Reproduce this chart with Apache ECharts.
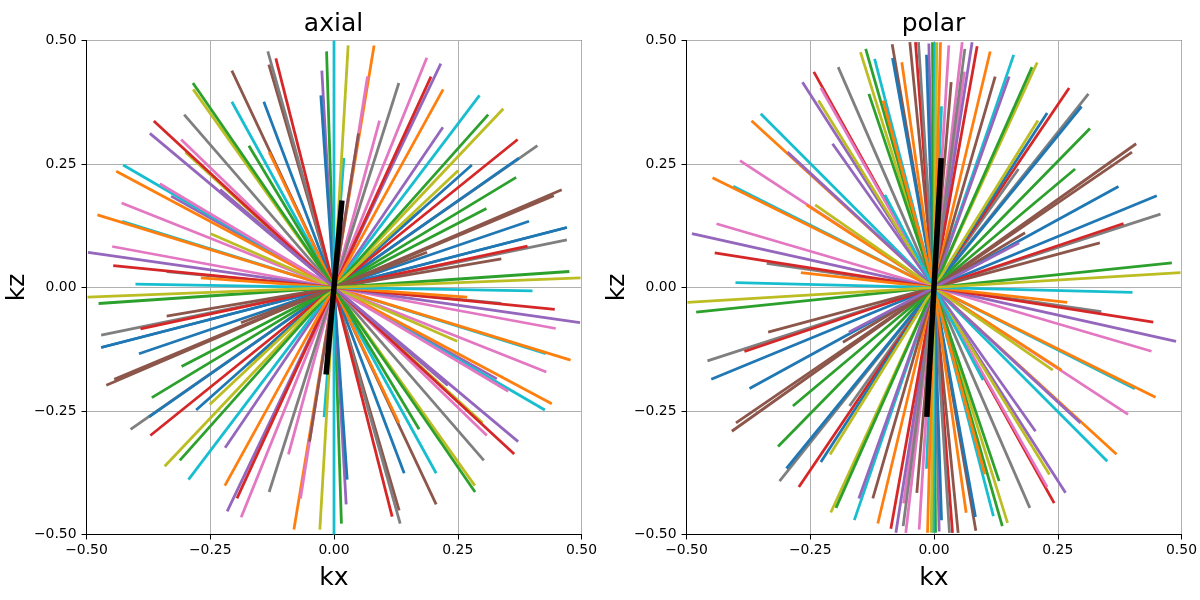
<!DOCTYPE html>
<html><head><meta charset="utf-8">
<script src="https://cdn.jsdelivr.net/npm/echarts@6/dist/echarts.min.js"></script>
<style>html,body{margin:0;padding:0;background:#fff}#c{width:1200px;height:600px}</style>
</head><body><div id="c"></div>
<script>
const palette = {b:'#1f77b4',o:'#ff7f0e',g:'#2ca02c',r:'#d62728',p:'#9467bd',n:'#8c564b',k:'#e377c2',y:'#7f7f7f',l:'#bcbd22',c:'#17becf'};
const titles = ['axial','polar'];
const tickValues = [-0.5,-0.25,0,0.25,0.5];

const axialColors = ['y','y','c','y','c','g','p','b','n','n','y','b','c','l','g','y','r','p','k','l','l','p','p','c','o','o','k','o','k','l','k','p','r','o','c','c','g','p','b','r','l','o','k','n','c','k','y','k','p','r','o','p','l','g','b','r','l','b','g','g','n','n','b','b','y','r','n','n','g','l'];
const axialKx = [-0.338,0.411,-0.428,0.175,0.02,-0.015,-0.0246,-0.0266,-0.1316,-0.2064,-0.1337,-0.1418,-0.2064,-0.2845,-0.285,-0.3027,-0.1175,-0.372,-0.3088,-0.30,0.161,-0.329,-0.23,-0.426,-0.131,-0.44,-0.352,-0.478,-0.429,-0.249,-0.448,-0.497,-0.446,-0.269,-0.401,0,-0.172,0.22,0.2785,-0.364,0.0286,0.081,0.0677,0.0495,0.294,0.092,0.131,0.1875,0.2158,0.196,0.2205,-0.23,0.342,0.3115,0.3735,0.371,0.251,0.394,0.368,0.308,0.46,0.444,0.4704,0.4704,0.4704,0.391,0.338,0.188,0.4755,0.498];
const axialKz = [0.032,0.287,0.134,0.156,0.2625,0.478,0.439,0.389,0.451,0.439,0.478,0.376,0.376,0.401,0.414,0.35,0.464,0.312,0.2996,0.274,0.149,0.185,0.198,0.248,0.274,0.2355,0.21,0.147,0.171,0.109,0.083,0.071,0.0445,0.0196,0.0067,0.5,0.287,0.3245,0.248,0.337,0.49,0.49,0.427,0.312,0.389,0.338,0.414,0.465,0.453,0.427,0.401,0.198,0.362,0.35,0.262,0.2996,0.237,0.134,0.223,0.16,0.198,0.186,0.1215,0.1215,0.0965,0.0837,0.058,0.0715,0.0324,0.0196];
const axialBlack = [0.016,0.176];

const polarColors = ['y','y','c','c','n','n','r','y','p','b','g','c','l','o','b','o','c','l','g','y','r','k','p','l','g','o','p','c','o','p','k','c','o','o','l','k','p','r','o','c','k','k','k','p','r','n','o','c','n','p','l','g','r','y','b','b','l','g','y','g','n','n','b','b','y','r','n','n','p','g','l'];
const polarKx = [-0.338,0.1707,-0.4057,0.0152,-0.0845,-0.0488,-0.0374,-0.0313,-0.0104,-0.0152,-0.003,0.0016,0.0057,0.0131,-0.0838,-0.065,-0.12,-0.1485,-0.138,-0.1936,-0.2428,-0.2286,-0.2657,-0.2333,-0.1316,-0.1027,-0.205,-0.35,-0.3687,-0.296,-0.392,-0.0993,-0.4475,-0.2576,-0.24,-0.4394,-0.489,-0.443,-0.269,-0.401,0.03,0.057,0.0616,0.077,0.0872,0.0347,0.1135,0.161,0.1236,0.1518,0.2085,0.198,0.273,0.312,0.298,0.2286,0.21,0.315,0.0623,0.285,0.4084,0.4,0.3727,0.45,0.4576,0.383,0.335,0.184,0.172,0.4805,0.498];
const polarKz = [0.049,0.24,0.205,0.367,0.4925,0.4966,0.4966,0.4966,0.494,0.471,0.4966,0.4966,0.4966,0.4966,0.4645,0.456,0.463,0.4764,0.483,0.446,0.4366,0.404,0.4157,0.3785,0.392,0.3785,0.291,0.3516,0.3374,0.274,0.257,0.1876,0.222,0.1673,0.1673,0.129,0.109,0.07,0.03,0.01,0.49,0.4966,0.437,0.4966,0.4885,0.4156,0.4777,0.471,0.427,0.427,0.4555,0.446,0.404,0.392,0.3664,0.353,0.338,0.322,0.483,0.24,0.291,0.274,0.2045,0.1856,0.1484,0.1296,0.0904,0.1107,0.0904,0.05,0.03];
const polarBlack = [0.0145,0.262];

function spokes(colors, kx, kz, black, idx){
  const out = colors.map((c,i)=>({
    type:'line',xAxisIndex:idx,yAxisIndex:idx,showSymbol:false,silent:true,animation:false,
    lineStyle:{color:palette[c],width:2.78,cap:'butt'},
    data:[[-kx[i],-kz[i]],[kx[i],kz[i]]]
  }));
  out.push({type:'line',xAxisIndex:idx,yAxisIndex:idx,showSymbol:false,silent:true,animation:false,
    lineStyle:{color:'#000',width:5.5,cap:'butt'},
    data:[[-black[0],-black[1]],[black[0],black[1]]]});
  return out;
}
const fmt = v => { const s = Math.abs(v).toFixed(2); return v<0 ? '\u2212'+s : s; };
function axis(name,gap,idx,margin){
  return {gridIndex:idx,type:'value',min:tickValues[0],max:tickValues[4],interval:0.25,name,nameLocation:'middle',nameGap:gap,
    nameTextStyle:{fontFamily:'DejaVu Sans',fontSize:25,color:'#000'},
    axisLine:{show:true,onZero:false,lineStyle:{color:'#000',width:1}},
    axisTick:{show:true,length:5,lineStyle:{color:'#000',width:1}},
    axisLabel:{fontFamily:'DejaVu Sans',fontSize:13.9,color:'#000',margin,formatter:fmt,showMinLabel:true,showMaxLabel:true},
    splitLine:{show:true,lineStyle:{color:'#b0b0b0',width:1}}};
}
const gridBox = l => ({left:l,top:40.5,width:495,height:494,show:true,borderColor:'#000',borderWidth:1,backgroundColor:'#fff'});
const chart = echarts.init(document.getElementById('c'),null,{renderer:'canvas'});
chart.setOption({
  animation:false,backgroundColor:'#fff',
  title:titles.map((t,i)=>({text:t,left:[328.5,928.5][i],top:7,textAlign:'center',
    textStyle:{fontFamily:'DejaVu Sans',fontSize:25,fontWeight:'normal',color:'#000'}})),
  grid:[gridBox(86.5),gridBox(686.5)],
  xAxis:[axis('kx',31,0,9),axis('kx',31,1,9)],
  yAxis:[axis('kz',48,0,10),axis('kz',48,1,10)],
  series:[...spokes(axialColors,axialKx,axialKz,axialBlack,0),...spokes(polarColors,polarKx,polarKz,polarBlack,1)]
});
</script></body></html>
